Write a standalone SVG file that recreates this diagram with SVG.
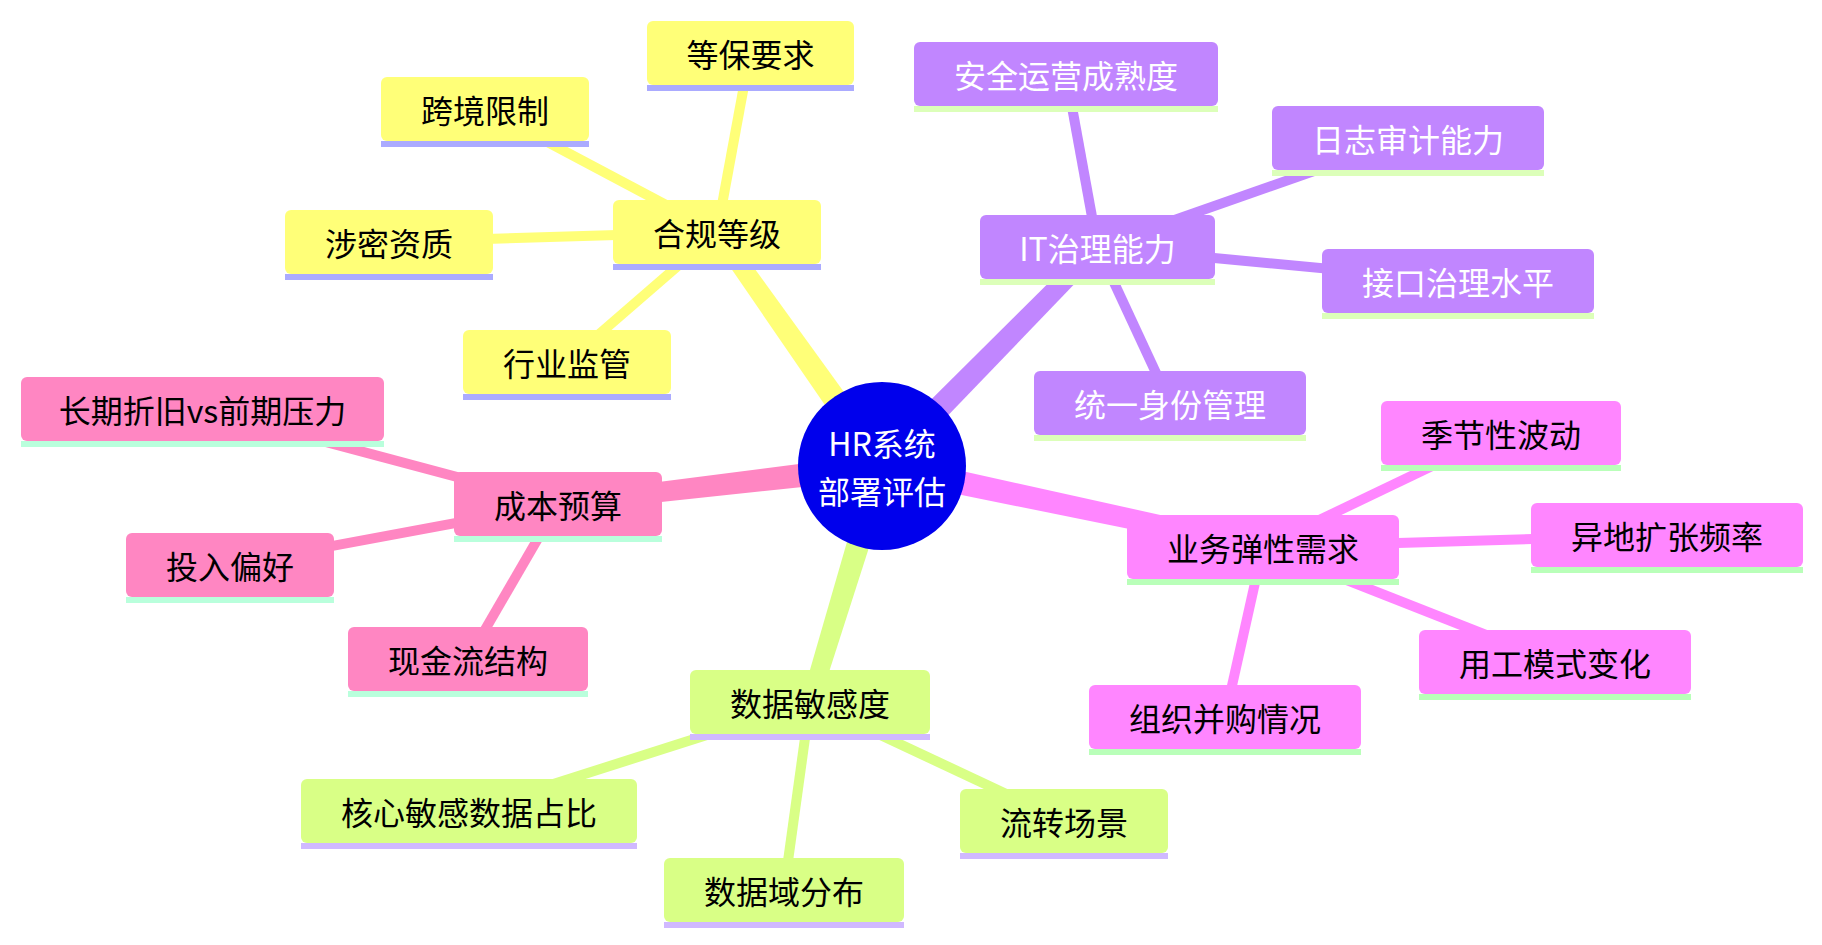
<svg xmlns="http://www.w3.org/2000/svg" width="1822" height="945" viewBox="0 0 1822 945">
<style>
.t{font-family:"Noto Sans CJK SC","Noto Sans",sans-serif;font-size:32px;text-anchor:middle;dominant-baseline:central;fill:#000}
.w{fill:#fff}
.e{stroke-width:10;fill:none}
.s0{fill:#ffff78}.l0{fill:#ababff}.c0{stroke:#ffff78}
.s1{fill:#c186ff}.l1{fill:#dcffb9}.c1{stroke:#c186ff}
.s2{fill:#ff86ff}.l2{fill:#b9ffb9}.c2{stroke:#ff86ff}
.s3{fill:#d9ff86}.l3{fill:#d0b9ff}.c3{stroke:#d9ff86}
.s4{fill:#ff86c2}.l4{fill:#b9ffdc}.c4{stroke:#ff86c2}
</style>
<rect width="1822" height="945" fill="#fff"/>
<g id="connectors">
<polygon class="s0" points="892.2,458.8 724.4,226.8 709.6,237.2 871.8,473.2"/>
<polygon class="s1" points="890.9,474.8 1103.9,253.3 1091.1,240.7 873.1,457.2"/>
<polygon class="s2" points="879.4,478.2 1261.1,555.8 1264.9,538.2 884.6,453.8"/>
<polygon class="s3" points="870.0,462.4 801.4,699.4 818.6,704.6 894.0,469.6"/>
<polygon class="s4" points="880.5,453.6 557.0,495.1 559.0,512.9 883.5,478.4"/>
<line class="e c0" x1="717" y1="232" x2="750" y2="53"/>
<line class="e c0" x1="717" y1="232" x2="485" y2="109"/>
<line class="e c0" x1="717" y1="232" x2="389" y2="242"/>
<line class="e c0" x1="717" y1="232" x2="567" y2="362"/>
<line class="e c1" x1="1097.5" y1="247" x2="1066" y2="74"/>
<line class="e c1" x1="1097.5" y1="247" x2="1408" y2="138"/>
<line class="e c1" x1="1097.5" y1="247" x2="1458" y2="281"/>
<line class="e c1" x1="1097.5" y1="247" x2="1170" y2="403"/>
<line class="e c2" x1="1263" y1="547" x2="1501" y2="433"/>
<line class="e c2" x1="1263" y1="547" x2="1667" y2="535"/>
<line class="e c2" x1="1263" y1="547" x2="1555" y2="662"/>
<line class="e c2" x1="1263" y1="547" x2="1225" y2="717"/>
<line class="e c3" x1="810" y1="702" x2="469" y2="811"/>
<line class="e c3" x1="810" y1="702" x2="784" y2="890"/>
<line class="e c3" x1="810" y1="702" x2="1064" y2="821"/>
<line class="e c4" x1="558" y1="504" x2="202.5" y2="409"/>
<line class="e c4" x1="558" y1="504" x2="230" y2="565"/>
<line class="e c4" x1="558" y1="504" x2="468" y2="659"/>
</g>
<g id="root"><circle cx="882" cy="466" r="84" fill="#0000ec"/><text class="t w" x="882" y="442">HR系统</text><text class="t w" x="882" y="490">部署评估</text></g>
<g id="n-compliance"><rect class="s0" x="613" y="200" width="208" height="64" rx="6"/><rect class="l0" x="613" y="264" width="208" height="6"/><text class="t" x="717" y="232">合规等级</text></g>
<g id="n-dengbao"><rect class="s0" x="647" y="21" width="207" height="64" rx="6"/><rect class="l0" x="647" y="85" width="207" height="6"/><text class="t" x="750.5" y="53">等保要求</text></g>
<g id="n-crossborder"><rect class="s0" x="381" y="77" width="208" height="64" rx="6"/><rect class="l0" x="381" y="141" width="208" height="6"/><text class="t" x="485" y="109">跨境限制</text></g>
<g id="n-secret"><rect class="s0" x="285" y="210" width="208" height="64" rx="6"/><rect class="l0" x="285" y="274" width="208" height="6"/><text class="t" x="389" y="242">涉密资质</text></g>
<g id="n-industry"><rect class="s0" x="463" y="330" width="208" height="64" rx="6"/><rect class="l0" x="463" y="394" width="208" height="6"/><text class="t" x="567" y="362">行业监管</text></g>
<g id="n-itgov"><rect class="s1" x="980" y="215" width="235" height="64" rx="6"/><rect class="l1" x="980" y="279" width="235" height="6"/><text class="t w" x="1097.5" y="247">IT治理能力</text></g>
<g id="n-secops"><rect class="s1" x="914" y="42" width="304" height="64" rx="6"/><rect class="l1" x="914" y="106" width="304" height="6"/><text class="t w" x="1066" y="74">安全运营成熟度</text></g>
<g id="n-audit"><rect class="s1" x="1272" y="106" width="272" height="64" rx="6"/><rect class="l1" x="1272" y="170" width="272" height="6"/><text class="t w" x="1408" y="138">日志审计能力</text></g>
<g id="n-api"><rect class="s1" x="1322" y="249" width="272" height="64" rx="6"/><rect class="l1" x="1322" y="313" width="272" height="6"/><text class="t w" x="1458" y="281">接口治理水平</text></g>
<g id="n-iam"><rect class="s1" x="1034" y="371" width="272" height="64" rx="6"/><rect class="l1" x="1034" y="435" width="272" height="6"/><text class="t w" x="1170" y="403">统一身份管理</text></g>
<g id="n-elastic"><rect class="s2" x="1127" y="515" width="272" height="64" rx="6"/><rect class="l2" x="1127" y="579" width="272" height="6"/><text class="t" x="1263" y="547">业务弹性需求</text></g>
<g id="n-season"><rect class="s2" x="1381" y="401" width="240" height="64" rx="6"/><rect class="l2" x="1381" y="465" width="240" height="6"/><text class="t" x="1501" y="433">季节性波动</text></g>
<g id="n-expand"><rect class="s2" x="1531" y="503" width="272" height="64" rx="6"/><rect class="l2" x="1531" y="567" width="272" height="6"/><text class="t" x="1667" y="535">异地扩张频率</text></g>
<g id="n-employ"><rect class="s2" x="1419" y="630" width="272" height="64" rx="6"/><rect class="l2" x="1419" y="694" width="272" height="6"/><text class="t" x="1555" y="662">用工模式变化</text></g>
<g id="n-ma"><rect class="s2" x="1089" y="685" width="272" height="64" rx="6"/><rect class="l2" x="1089" y="749" width="272" height="6"/><text class="t" x="1225" y="717">组织并购情况</text></g>
<g id="n-datasens"><rect class="s3" x="690" y="670" width="240" height="64" rx="6"/><rect class="l3" x="690" y="734" width="240" height="6"/><text class="t" x="810" y="702">数据敏感度</text></g>
<g id="n-core"><rect class="s3" x="301" y="779" width="336" height="64" rx="6"/><rect class="l3" x="301" y="843" width="336" height="6"/><text class="t" x="469" y="811">核心敏感数据占比</text></g>
<g id="n-domain"><rect class="s3" x="664" y="858" width="240" height="64" rx="6"/><rect class="l3" x="664" y="922" width="240" height="6"/><text class="t" x="784" y="890">数据域分布</text></g>
<g id="n-flow"><rect class="s3" x="960" y="789" width="208" height="64" rx="6"/><rect class="l3" x="960" y="853" width="208" height="6"/><text class="t" x="1064" y="821">流转场景</text></g>
<g id="n-cost"><rect class="s4" x="454" y="472" width="208" height="64" rx="6"/><rect class="l4" x="454" y="536" width="208" height="6"/><text class="t" x="558" y="504">成本预算</text></g>
<g id="n-depr"><rect class="s4" x="21" y="377" width="363" height="64" rx="6"/><rect class="l4" x="21" y="441" width="363" height="6"/><text class="t" x="202.5" y="409">长期折旧vs前期压力</text></g>
<g id="n-invest"><rect class="s4" x="126" y="533" width="208" height="64" rx="6"/><rect class="l4" x="126" y="597" width="208" height="6"/><text class="t" x="230" y="565">投入偏好</text></g>
<g id="n-cash"><rect class="s4" x="348" y="627" width="240" height="64" rx="6"/><rect class="l4" x="348" y="691" width="240" height="6"/><text class="t" x="468" y="659">现金流结构</text></g>
</svg>
